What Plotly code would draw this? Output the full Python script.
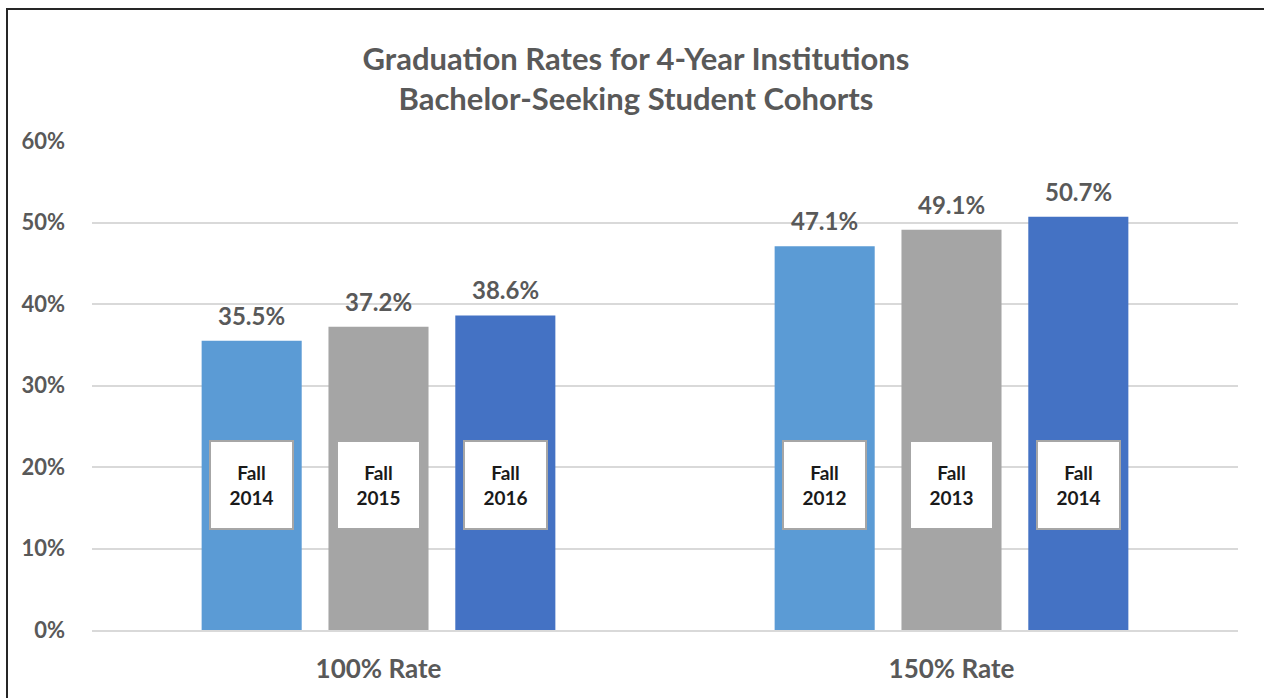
import plotly.graph_objects as go

# data
rate_types = ["100% Rate", "150% Rate"]
series_names = ["Cohort A", "Cohort B", "Cohort C"]
series_values = [
    [35.5, 47.1],
    [37.2, 49.1],
    [38.6, 50.7],
]
cohort_labels = [
    ["Fall<br>2014", "Fall<br>2012"],
    ["Fall<br>2015", "Fall<br>2013"],
    ["Fall<br>2016", "Fall<br>2014"],
]
colors = ["#5B9BD5", "#A5A5A5", "#4472C4"]

W, H = 1264, 698
L, R, T, B = 92, 26, 141, 68
FONT = "Lato"
GRAY = "#595959"

fig = go.Figure()
for name, vals, col in zip(series_names, series_values, colors):
    fig.add_trace(go.Bar(
        x=rate_types, y=[v / 100 for v in vals], name=name,
        marker=dict(color=col, line=dict(width=0)),
        hoverinfo="y",
    ))

# value labels above bars and white cohort boxes inside them
slot = 126.75
for i, (vals, labs) in enumerate(zip(series_values, cohort_labels)):
    for j, (v, lab) in enumerate(zip(vals, labs)):
        fig.add_annotation(
            x=rate_types[j], y=v / 100, xref="x", yref="y",
            xshift=(i - 1) * slot, yshift=9, yanchor="bottom",
            text=f"<b>{v:.1f}%</b>", showarrow=False,
            font=dict(family=FONT, size=24, color=GRAY),
        )
        fig.add_annotation(
            x=rate_types[j], y=0.178, xref="x", yref="y",
            xshift=(i - 1) * slot, text=f"<b>{lab}</b>", showarrow=False,
            font=dict(family=FONT, size=19, color="#1a1a1a"),
            bgcolor="white", bordercolor="#a6a6a6", borderwidth=2,
            width=79, height=84, align="center", valign="middle",
        )

# outer chart frame (top and left edges visible)
pw, ph = W - L - R, H - T - B
def px_x(p):
    return (p - L) / pw
def px_y(p):
    return (H - B - p) / ph
fig.add_shape(type="line", xref="paper", yref="paper",
              x0=px_x(6), x1=px_x(W), y0=px_y(9), y1=px_y(9),
              line=dict(color="#262626", width=2))
fig.add_shape(type="line", xref="paper", yref="paper",
              x0=px_x(7), x1=px_x(7), y0=px_y(8), y1=px_y(H),
              line=dict(color="#262626", width=2))

fig.update_layout(
    width=W, height=H,
    margin=dict(l=L, r=R, t=T, b=B),
    paper_bgcolor="white", plot_bgcolor="white",
    barmode="group", bargap=0.336, bargroupgap=0.211,
    showlegend=False,
    font=dict(family=FONT, color=GRAY),
    title=dict(
        text="<b>Graduation Rates for 4-Year Institutions<br>Bachelor-Seeking Student Cohorts</b>",
        x=636 / W, xanchor="center", y=1 - 69.5 / H, yanchor="middle",
        font=dict(family=FONT, size=31, color=GRAY),
    ),
    yaxis=dict(
        range=[0, 0.6], dtick=0.1, tickformat=".0%",
        tickprefix="<b>", ticksuffix="</b>",
        showgrid=True, gridcolor="#d9d9d9", gridwidth=1.5,
        zeroline=False, showline=False, ticks="", automargin=False,
        tickfont=dict(family=FONT, size=22, color=GRAY),
        ticklabelstandoff=26,
    ),
    xaxis=dict(
        tickvals=rate_types, ticktext=[f"<b>{c}</b>" for c in rate_types],
        showline=True, linecolor="#d9d9d9", linewidth=1.5, ticks="",
        automargin=False,
        tickfont=dict(family=FONT, size=26, color=GRAY),
        ticklabelstandoff=15,
    ),
)

# drop the default page margin so the figure fills the window exactly
fig.write_html(
    "out.html",
    config={"displayModeBar": False},
    post_script="document.body.style.margin='0';document.body.style.overflow='hidden';",
)
